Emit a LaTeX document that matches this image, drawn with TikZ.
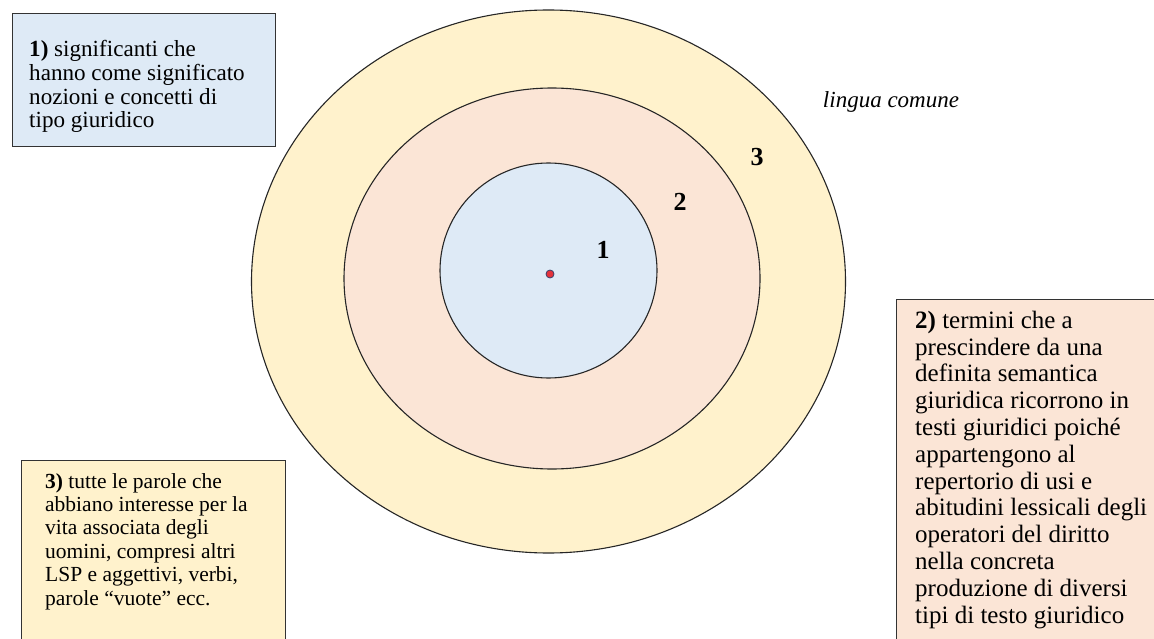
\documentclass[tikz,border=0pt]{standalone}
\usepackage{fontspec}
\setmainfont{Liberation Serif}
\definecolor{cblue}{HTML}{DEEAF6}
\definecolor{cpink}{HTML}{FBE5D6}
\definecolor{cyellow}{HTML}{FFF2CC}
\definecolor{dotred}{HTML}{E5323A}
\definecolor{dotline}{HTML}{3A3F6A}
\begin{document}
\begin{tikzpicture}[x=1pt,y=-1pt,
  ring/.style={draw=black!85, line width=1.1pt},
  boxline/.style={draw=black!80, line width=1pt},
  txtA/.style={inner sep=0pt, align=left, anchor=base west, font=\fontsize{23.1}{23.9}\selectfont},
  txtB/.style={inner sep=0pt, align=left, anchor=base west, font=\fontsize{21.5}{23.4}\selectfont},
  txtC/.style={inner sep=0pt, align=left, anchor=base west, font=\fontsize{25}{26.8}\selectfont},
  num/.style={inner sep=0pt, font=\fontsize{26}{28}\selectfont\bfseries}]
\useasboundingbox (0,0) rectangle (1154,639);
\clip (0,0) rectangle (1154,639);
\fill[white] (0,0) rectangle (1154,639);
% rings
\draw[ring, fill=cyellow] (548.5,281.5) ellipse [x radius=297, y radius=271.5];
\draw[ring, fill=cpink] (552,278.5) ellipse [x radius=208, y radius=190.5];
\draw[ring, fill=cblue] (548.5,270.5) ellipse [x radius=108.5, y radius=107.5];
\filldraw[fill=dotred, draw=dotline, line width=0.8pt] (550,274) circle [radius=4];
% ring numbers
\node[num] (n1) at (603,250) {1};
\node[num] (n2) at (680,202) {2};
\node[num] (n3) at (757,157) {3};
\node[inner sep=0pt, font=\fontsize{23}{25}\selectfont\itshape] (lc) at (891,102) {lingua comune};
% boxes
\draw[boxline, fill=cblue] (12,14) rectangle (275,147);
\draw[boxline, fill=cyellow] (21,460) rectangle (285,660);
\draw[boxline, fill=cpink] (896,299) rectangle (1170,660);
\node[txtA] (t1) at (29,128) {\textbf{1)} significanti che\\hanno come significato\\nozioni e concetti di\\tipo giuridico};
\node[txtB] (t3) at (45,605) {\textbf{3)} tutte le parole che\\abbiano interesse per la\\vita associata degli\\uomini, compresi altri\\LSP e aggettivi, verbi,\\parole “vuote” ecc.};
\node[txtC] (t2) at (915,623) {\textbf{2)} termini che a\\prescindere da una\\definita semantica\\giuridica ricorrono in\\testi giuridici poiché\\appartengono al\\repertorio di usi e\\abitudini lessicali degli\\operatori del diritto\\nella concreta\\produzione di diversi\\tipi di testo giuridico};
\end{tikzpicture}
\end{document}
